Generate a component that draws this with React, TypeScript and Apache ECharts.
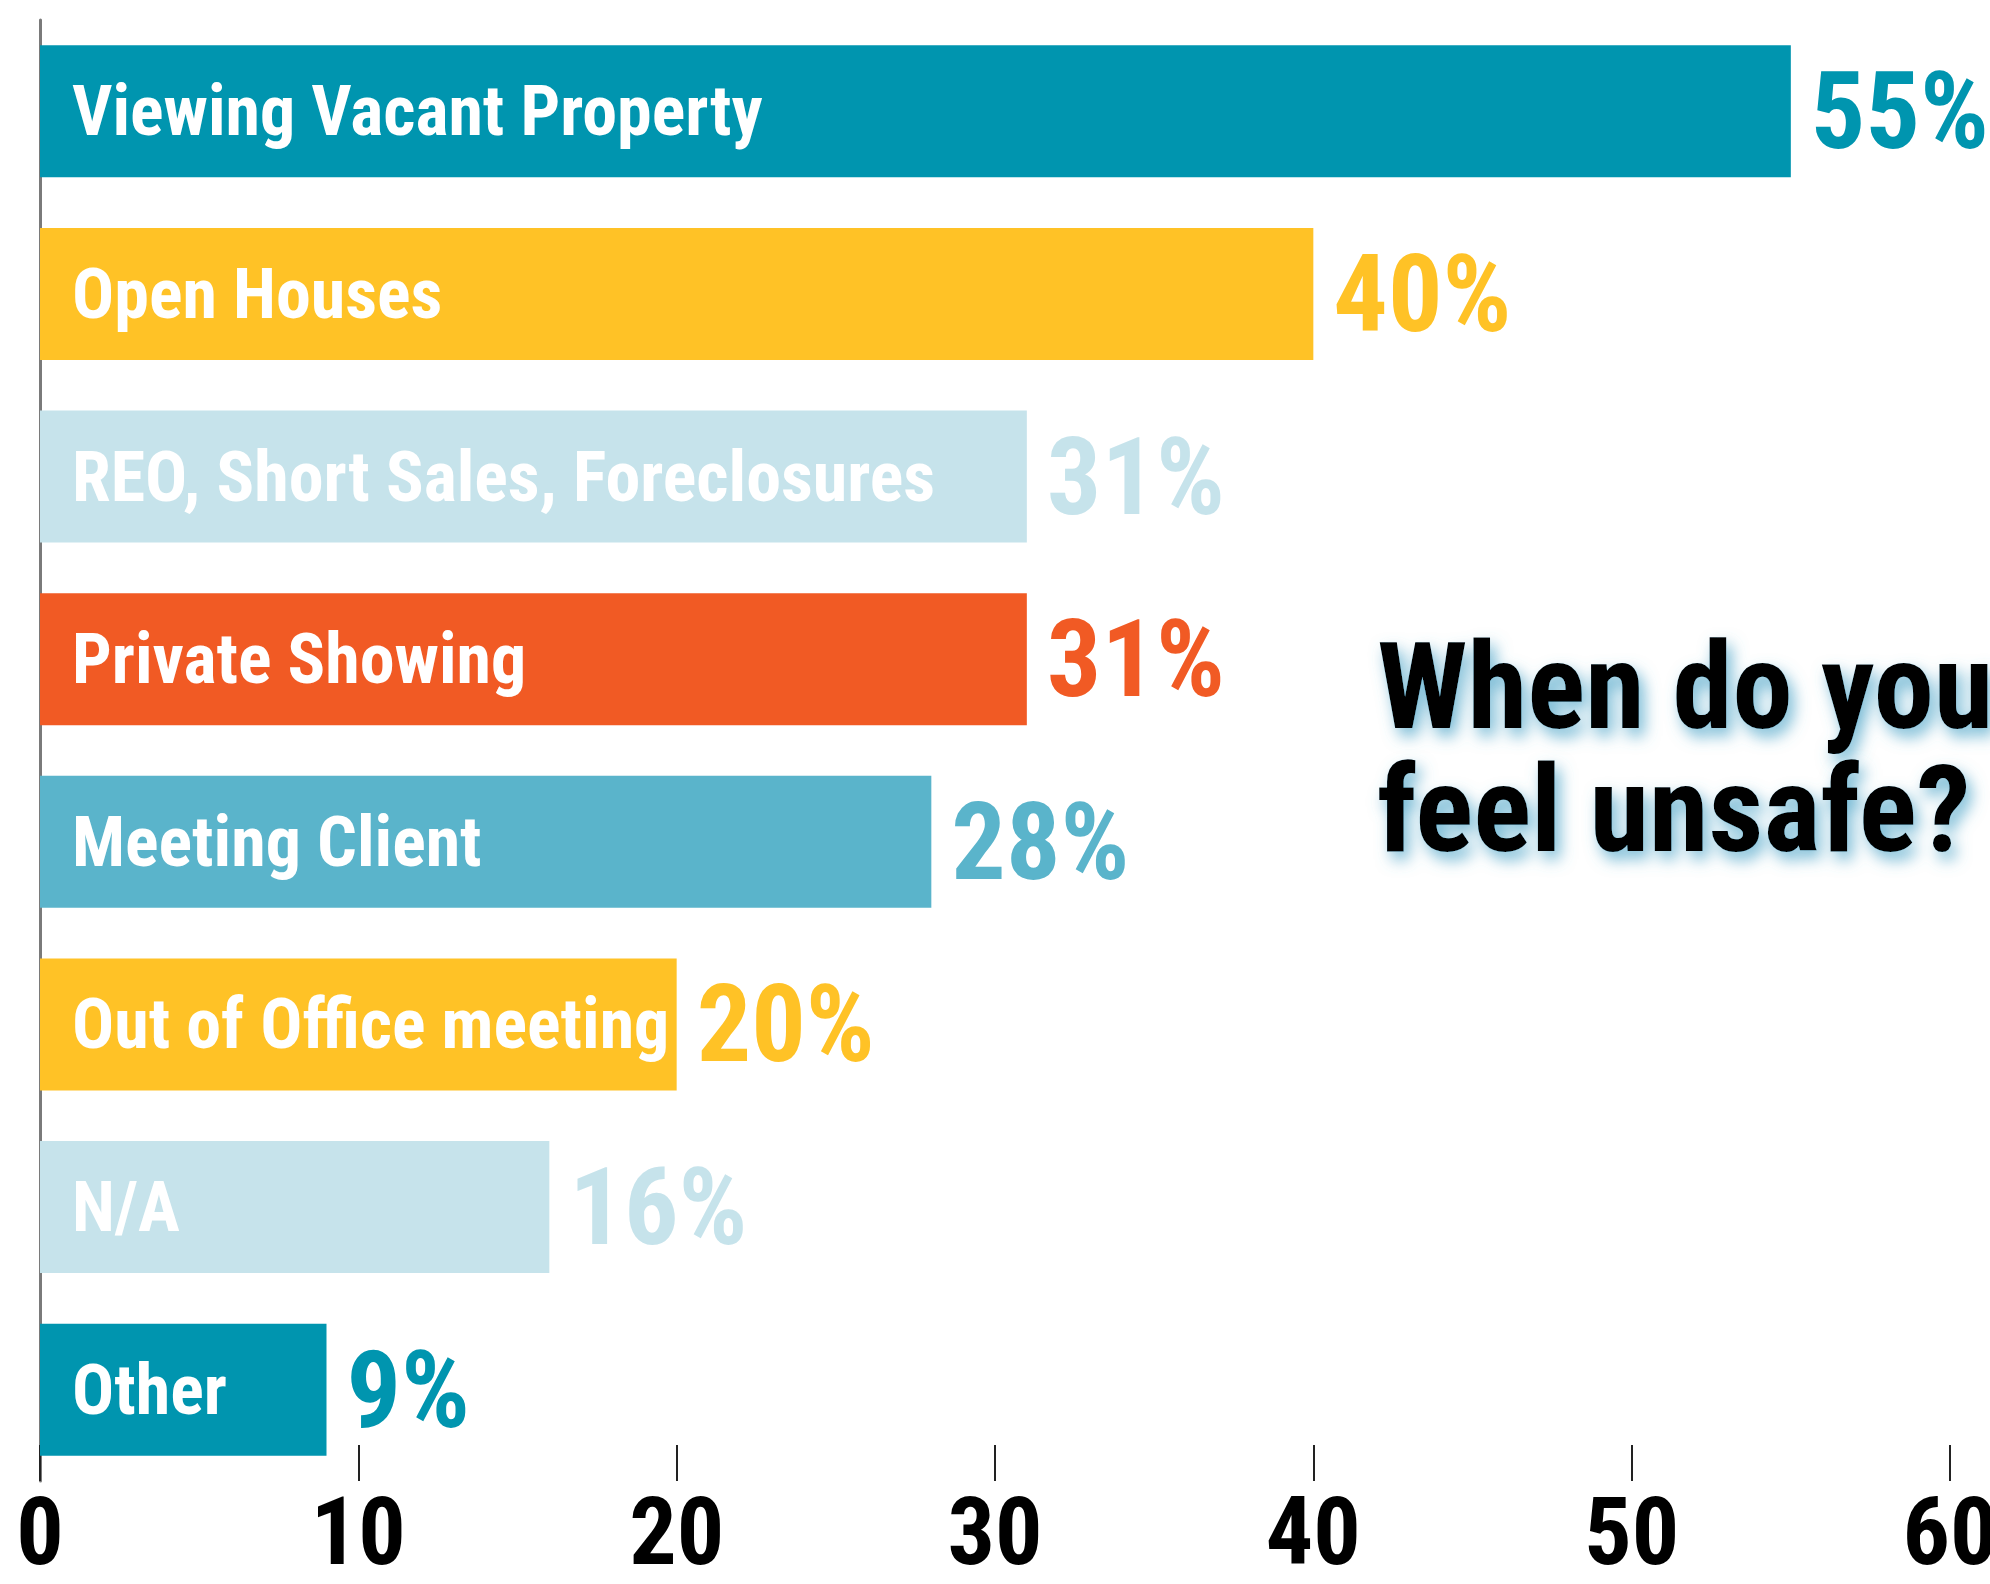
import React, { useEffect, useRef } from "react";
import * as echarts from "echarts";

const categories = [
  "Viewing Vacant Property",
  "Open Houses",
  "REO, Short Sales, Foreclosures",
  "Private Showing",
  "Meeting Client",
  "Out of Office meeting",
  "N/A",
  "Other",
];
const values = [55, 40, 31, 31, 28, 20, 16, 9];
const barColors = ["#0095AF", "#FFC226", "#C6E3EB", "#F15A24", "#5AB4CB", "#FFC226", "#C6E3EB", "#0095AF"];
const xTicks = [0, 10, 20, 30, 40, 50, 60];
const titleText = "When do you\nfeel unsafe?";

const FONT = "'Roboto Condensed', Roboto, sans-serif";

export default function App() {
  const ref = useRef<HTMLDivElement>(null);
  useEffect(() => {
    document.body.style.margin = "0";
    const chart = echarts.init(ref.current!, null, { renderer: "svg" });
    chart.setOption({
      animation: false,
      backgroundColor: "#ffffff",
      title: {
        text: titleText,
        left: 1372,
        top: 620,
        textStyle: {
          fontFamily: FONT,
          fontWeight: "bold",
          fontSize: 121,
          lineHeight: 123,
          color: "#000000",
          textShadowColor: "rgba(80,165,200,0.8)",
          textShadowBlur: 16,
          textShadowOffsetX: 5,
          textShadowOffsetY: 8,
        },
      },
      grid: { left: 40, right: 40, top: 20, bottom: 103, containLabel: false, outerBoundsMode: "none" },
      xAxis: {
        type: "value",
        min: xTicks[0],
        max: xTicks[xTicks.length - 1],
        interval: 10,
        splitLine: { show: false },
        axisLine: {
          show: true,
          lineStyle: { color: "#7a7a7a", width: 4, shadowColor: "rgba(0,0,0,0.35)", shadowBlur: 3, shadowOffsetY: 2 },
        },
        axisTick: { show: true, inside: true, length: 36, lineStyle: { color: "#222", width: 2 } },
        axisLabel: {
          show: true,
          margin: 6,
          fontFamily: FONT,
          fontWeight: "bold",
          fontSize: 94,
          lineHeight: 90,
          color: "#000",
        },
      },
      yAxis: {
        type: "category",
        data: categories,
        inverse: true,
        axisLine: { show: true, lineStyle: { color: "#7a7a7a", width: 3 } },
        axisTick: { show: false },
        axisLabel: { show: false },
        splitLine: { show: false },
      },
      series: [
        {
          type: "bar",
          barWidth: 132,
          data: values.map((v, i) => ({ value: v, itemStyle: { color: barColors[i] } })),
          label: {
            show: true,
            position: "insideLeft",
            distance: 32,
            formatter: "{b}",
            color: "#ffffff",
            fontFamily: FONT,
            fontWeight: "bold",
            fontSize: 70,
          },
          z: 2,
        },
        {
          type: "bar",
          barWidth: 132,
          barGap: "-100%",
          data: values.map((v, i) => ({
            value: v,
            itemStyle: { color: "rgba(0,0,0,0)" },
            label: { color: barColors[i] },
          })),
          label: {
            show: true,
            position: "right",
            distance: 20,
            formatter: "{c}%",
            fontFamily: FONT,
            fontWeight: "bold",
            fontSize: 108,
          },
          z: 3,
        },
      ],
    });
    return () => chart.dispose();
  }, []);
  return <div ref={ref} style={{ width: 1990, height: 1584 }} />;
}
